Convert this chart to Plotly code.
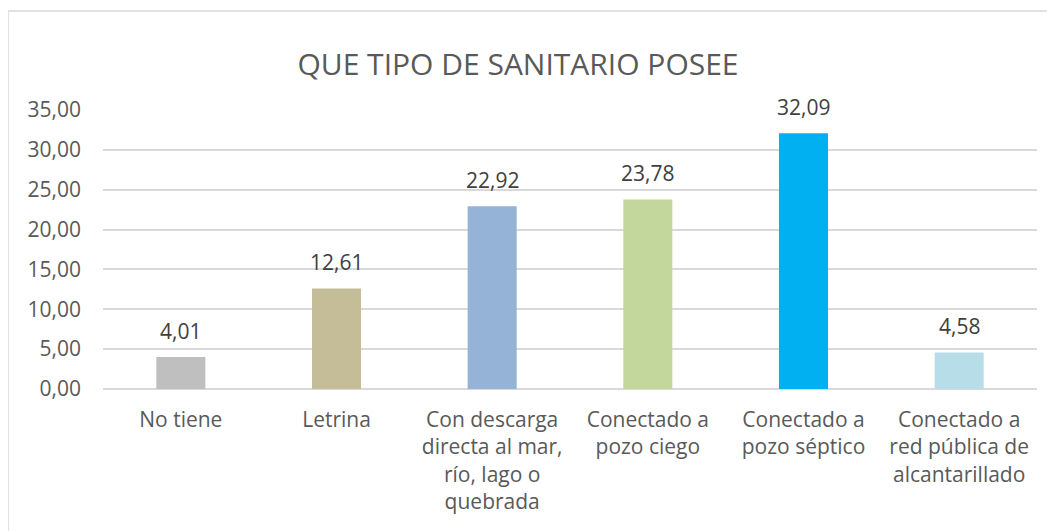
import plotly.graph_objects as go

# data
categories = [
    "No tiene",
    "Letrina",
    "Con descarga<br>directa al mar,<br>río, lago o<br>quebrada",
    "Conectado a<br>pozo ciego",
    "Conectado a<br>pozo séptico",
    "Conectado a<br>red pública de<br>alcantarillado",
]
values = [4.01, 12.61, 22.92, 23.78, 32.09, 4.58]
bar_colors = ['#BFBFBF', '#C4BD97', '#95B3D7', '#C3D69B', '#00B0F0', '#B7DEE8']
y_ticks = [0, 5, 10, 15, 20, 25, 30, 35]

TEXT = '#595959'
GRID = '#D9D9D9'

fig = go.Figure(go.Bar(
    x=categories,
    y=values,
    marker=dict(color=bar_colors, line=dict(width=0)),
    hoverinfo='skip',
))

# value labels above the bars
for cat, v in zip(categories, values):
    fig.add_annotation(
        x=cat, y=v, text=f"{v:.2f}".replace('.', ','),
        showarrow=False, yanchor='bottom', yshift=10,
        font=dict(size=21, color='#404040'),
    )

fig.update_layout(
    width=1055, height=531,
    paper_bgcolor='white',
    plot_bgcolor='white',
    separators=',.',
    font=dict(family='Open Sans, sans-serif', color=TEXT, size=21),
    margin=dict(l=95, r=26, t=102, b=150),
    bargap=0.685,
    showlegend=False,
    title=dict(
        text='QUE TIPO DE SANITARIO POSEE',
        font=dict(size=30, color=TEXT),
        xref='container', yref='container',
        x=0.4834, y=0.8927, xanchor='center', yanchor='middle',
    ),
)

fig.update_xaxes(
    showgrid=False, zeroline=False, showline=False,
    ticks='', ticklabelstandoff=16,
    tickfont=dict(size=21, color=TEXT),
)
fig.update_yaxes(
    range=[0, 35],
    tickvals=y_ticks,
    tickformat='.2f',
    showgrid=True, gridcolor=GRID, gridwidth=1.5,
    zeroline=True, zerolinecolor=GRID, zerolinewidth=1.5,
    showline=False, ticks='', ticklabelstandoff=21,
    tickfont=dict(size=21, color=TEXT),
)

# outer chart frame (only top and left edges are visible in the crop)
fig.add_shape(
    type='rect', xref='paper', yref='paper',
    x0=-0.1017, x1=1.2, y0=-0.8, y1=1.355,
    line=dict(color=GRID, width=1.5), fillcolor='rgba(0,0,0,0)',
    layer='below',
)

fig.write_html("out.html")
